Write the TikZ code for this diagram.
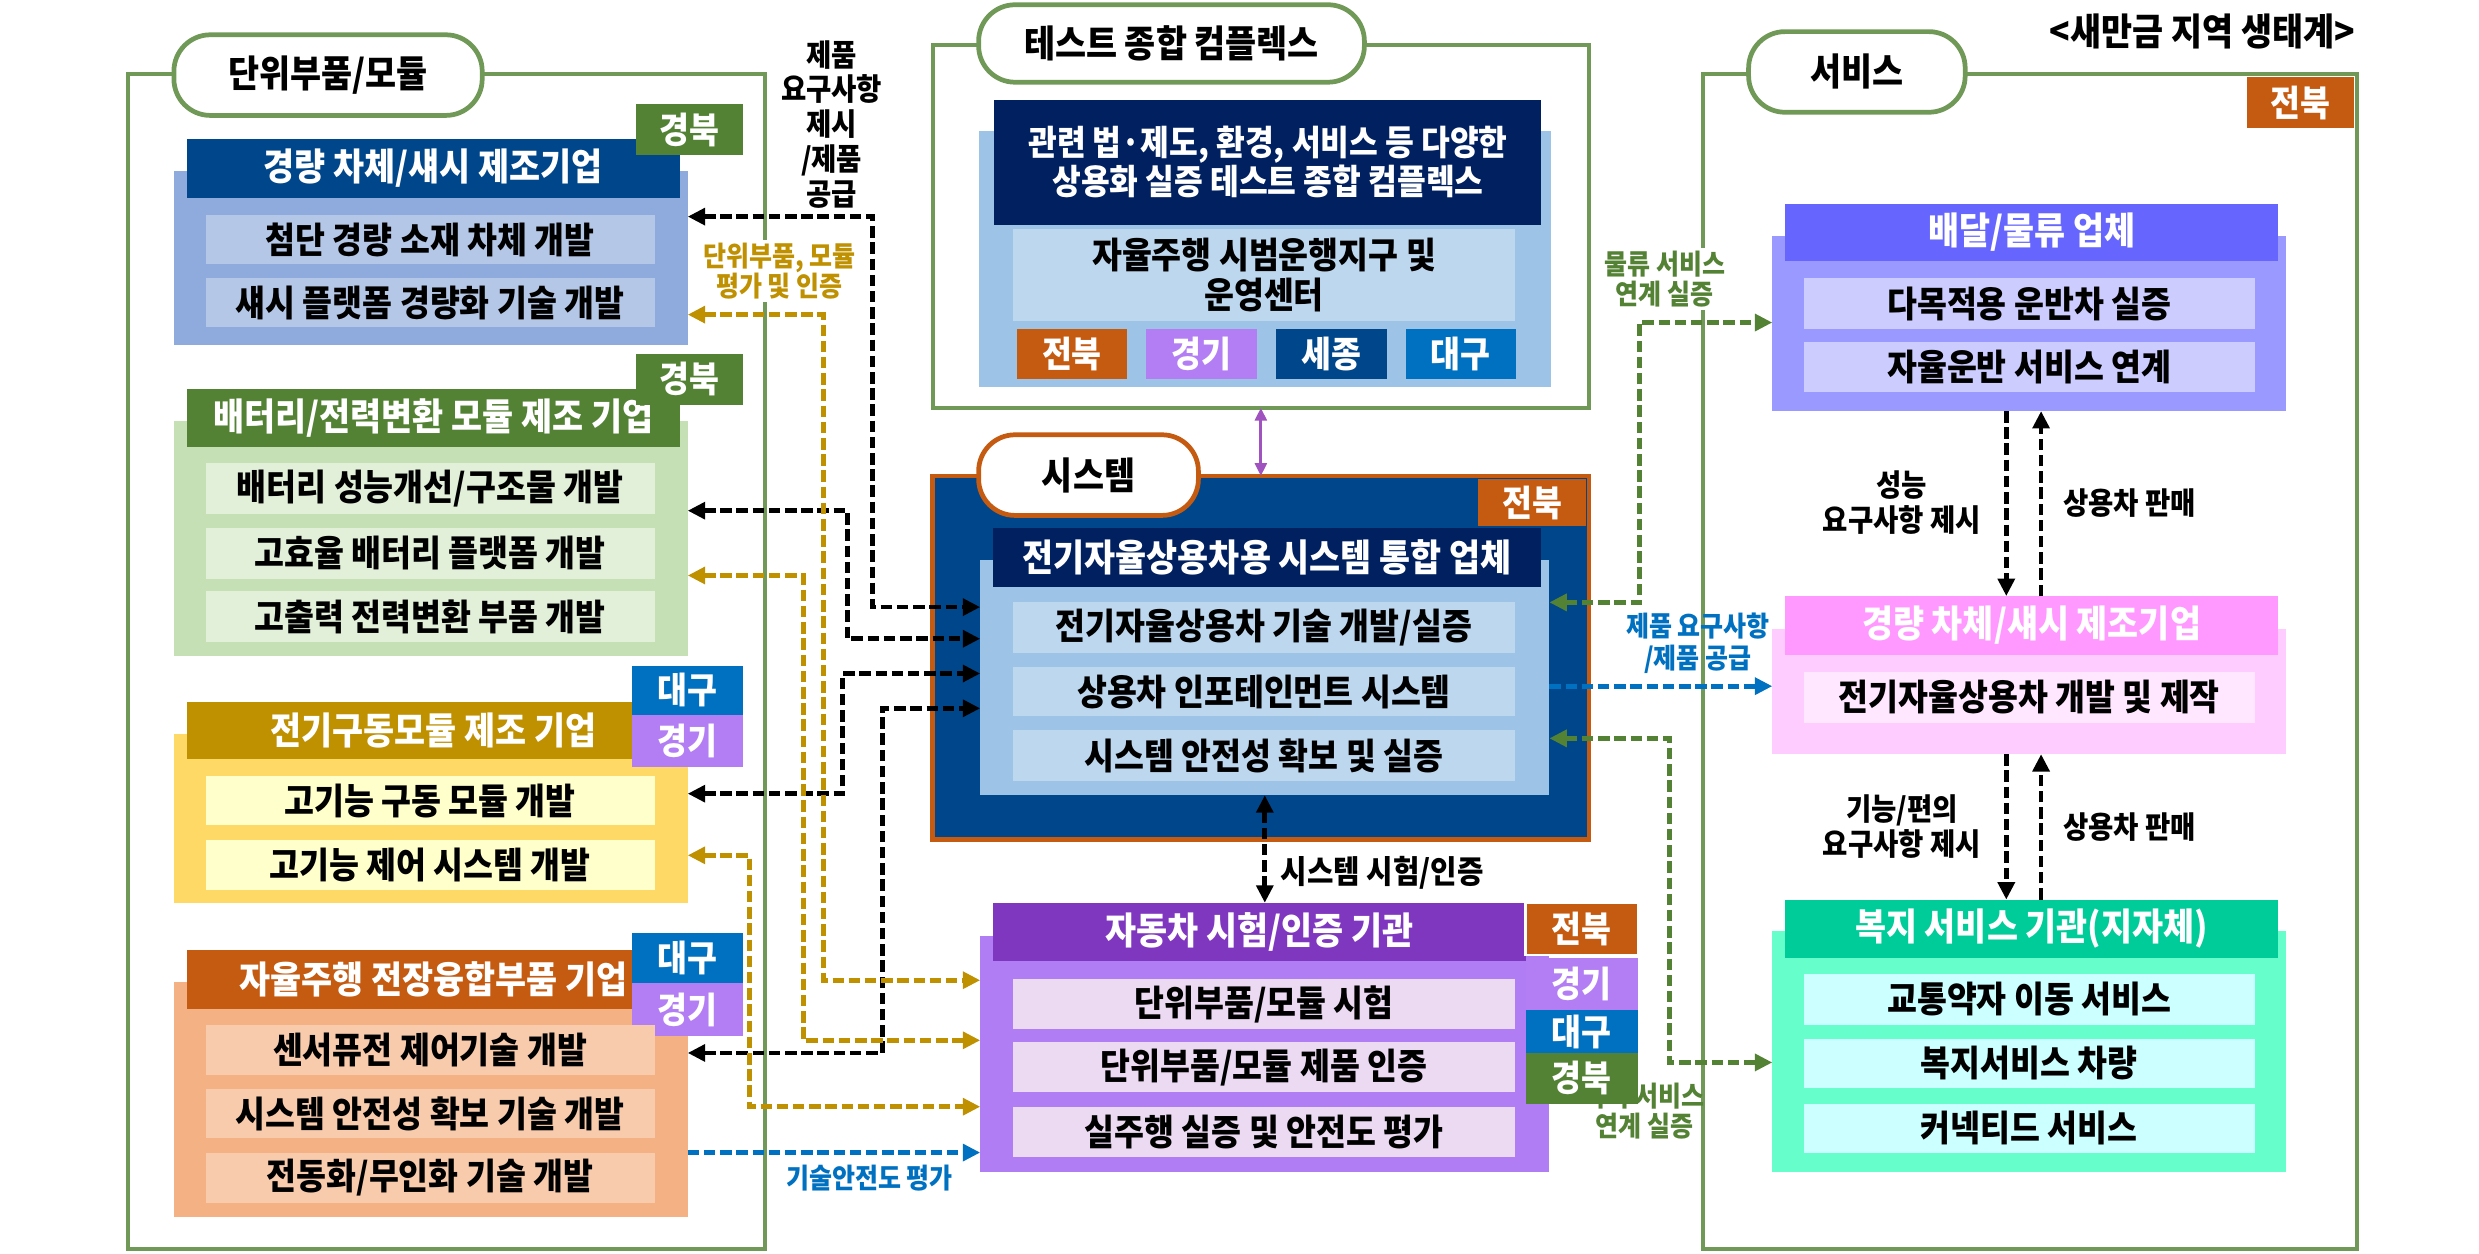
\documentclass[tikz,border=0pt]{standalone}
\usepackage{fontspec}
\setmainfont{Noto Sans CJK KR}[FakeStretch=0.9]
\usetikzlibrary{arrows.meta, positioning}

\definecolor{frgreen}{RGB}{112,153,87}
\definecolor{navyA}{RGB}{0,70,138}
\definecolor{navyB}{RGB}{0,32,96}
\definecolor{tgreen}{RGB}{84,130,53}
\definecolor{tblue}{RGB}{0,112,192}
\definecolor{tpurple}{RGB}{179,125,243}
\definecolor{torange}{RGB}{197,90,17}
\definecolor{gold}{RGB}{191,144,0}
\definecolor{bAbody}{RGB}{143,170,220}
\definecolor{bAitem}{RGB}{180,199,231}
\definecolor{bBbody}{RGB}{197,224,180}
\definecolor{bBitem}{RGB}{226,240,217}
\definecolor{bCbody}{RGB}{255,217,102}
\definecolor{bCitem}{RGB}{255,255,204}
\definecolor{bDbody}{RGB}{244,177,131}
\definecolor{bDitem}{RGB}{248,203,173}
\definecolor{skybody}{RGB}{157,195,230}
\definecolor{skyitem}{RGB}{189,215,238}
\definecolor{cthd}{RGB}{128,55,192}
\definecolor{ctbd}{RGB}{177,125,245}
\definecolor{ctit}{RGB}{235,218,242}
\definecolor{sAhd}{RGB}{102,102,255}
\definecolor{sAbd}{RGB}{153,153,255}
\definecolor{sAit}{RGB}{204,204,255}
\definecolor{sBhd}{RGB}{255,153,255}
\definecolor{sBbd}{RGB}{255,204,255}
\definecolor{sBit}{RGB}{255,232,255}
\definecolor{sChd}{RGB}{0,204,153}
\definecolor{sCbd}{RGB}{102,255,204}
\definecolor{sCit}{RGB}{204,255,255}
\definecolor{purparr}{RGB}{160,82,190}

\newcommand\fitem{\fontsize{13}{14.5}\selectfont\bfseries}
\newcommand\fhead{\fontsize{13.5}{15}\selectfont\bfseries}
\newcommand\flbl{\fontsize{10}{10.8}\selectfont\bfseries}
\newcommand\flblb{\fontsize{11}{12.5}\selectfont\bfseries}

% box from corner to corner: name, style, x1, y1, x2, y2, text
\newcommand\bx[7]{\node[#2, minimum width={(#5-#3)*0.2mm}, minimum height={(#6-#4)*0.2mm}] (#1) at ({(#3+#5)/2},{(#4+#6)/2}) {#7};}

\tikzset{
  base/.style={rectangle, inner sep=0pt, outer sep=0pt, align=center},
  body/.style={base, fill=#1},
  head/.style={base, fill=#1, text=white, font=\fhead},
  item/.style={base, fill=#1, font=\fitem},
  tag/.style={base, fill=#1, text=white, font=\fitem},
  frame/.style={base, draw=frgreen, line width=0.5mm},
  pill/.style={base, draw=#1, fill=white, line width=0.6mm, rounded corners=4.6mm, font=\fhead},
  lnk/.style={line width=0.6mm, dash pattern=on 1.45mm off 0.6mm, draw=#1},
  lbl/.style={align=center, inner sep=1pt, font=\flbl},
}

\begin{document}
\begin{tikzpicture}[x=0.2mm, y=-0.2mm, >={Triangle[length=2.2mm,width=2.1mm]}]
\useasboundingbox (0,0) rectangle (1568,793);

% frames and titles
\bx{lframe}{frame}{81}{47}{484}{790}{}
\bx{cxframe}{frame}{590}{28.5}{1005}{258}{}
\bx{svframe}{frame}{1077}{47}{1491}{790}{}
\bx{lpill}{pill=frgreen}{110}{22}{305}{73}{단위부품/모듈}
\bx{cxpill}{pill=frgreen}{619}{3}{863}{52}{테스트 종합 컴플렉스}
\bx{svpill}{pill=frgreen}{1106}{20}{1243}{71}{서비스}
\node[font=\fhead] (title) at (1393,20) {<새만금 지역 생태계>};

% labels
\node[lbl, font=\flblb] (lblsup) at (526,78.5) {제품\\요구사항\\제시\\/제품\\공급};
\node[lbl, text=gold, fill=white] (lbleval) at (493,171.5) {단위부품, 모듈\\평가 및 인증};
\node[lbl, text=tgreen, fill=white] (lbllog) at (1053,176.5) {물류 서비스\\연계 실증};
\node[lbl, text=tblue, font=\fontsize{10}{11.4}\selectfont\bfseries] (lblreq) at (1074,407) {제품 요구사항\\/제품 공급};
\node[lbl, text=tgreen] (lblwel) at (1040,703) {복지 서비스\\연계 실증};
\node[lbl, text=tblue] (lblsafe) at (550,745) {기술안전도 평가};
\node[lbl, font=\fontsize{11.5}{12.5}\selectfont\bfseries, anchor=west] (lbltest) at (808,552) {시스템 시험/인증};
\node[lbl, font=\flblb] (lblperf) at (1203,318) {성능\\요구사항 제시};
\node[lbl, font=\flblb] (lblsaleA) at (1347,318) {상용차 판매};
\node[lbl, font=\flblb] (lblfunc) at (1203,523) {기능/편의\\요구사항 제시};
\node[lbl, font=\flblb] (lblsaleB) at (1347,523) {상용차 판매};

% box 1
\bx{b1body}{body=bAbody}{110}{108}{435}{218}{}
\bx{b1head}{head=navyA}{118}{88}{430}{125}{경량 차체/섀시 제조기업}
\bx{b1tag}{tag=tgreen}{402}{66}{470}{98}{경북}
\bx{b1i1}{item=bAitem}{130}{136}{414}{167}{첨단 경량 소재 차체 개발}
\bx{b1i2}{item=bAitem}{130}{176}{414}{207}{섀시 플랫폼 경량화 기술 개발}

% box 2
\bx{b2body}{body=bBbody}{110}{266}{435}{415}{}
\bx{b2head}{head=tgreen}{118}{246}{430}{283}{배터리/전력변환 모듈 제조 기업}
\bx{b2tag}{tag=tgreen}{402}{224}{470}{256}{경북}
\bx{b2i1}{item=bBitem}{130}{293}{414}{325}{배터리 성능개선/구조물 개발}
\bx{b2i2}{item=bBitem}{130}{334}{414}{366}{고효율 배터리 플랫폼 개발}
\bx{b2i3}{item=bBitem}{130}{374}{414}{406}{고출력 전력변환 부품 개발}

% box 3
\bx{b3body}{body=bCbody}{110}{464}{435}{571}{}
\bx{b3head}{head=gold}{118}{444}{430}{480}{전기구동모듈 제조 기업}
\bx{b3tagA}{tag=tblue}{400}{421}{470}{452}{대구}
\bx{b3tagB}{tag=tpurple}{400}{452}{470}{485}{경기}
\bx{b3i1}{item=bCitem}{130}{491}{414}{522}{고기능 구동 모듈 개발}
\bx{b3i2}{item=bCitem}{130}{531}{414}{563}{고기능 제어 시스템 개발}

% box 4
\bx{b4body}{body=bDbody}{110}{621}{435}{770}{}
\bx{b4head}{head=torange}{118}{601}{430}{638}{자율주행 전장융합부품 기업}
\bx{b4tagA}{tag=tblue}{400}{590}{470}{622}{대구}
\bx{b4tagB}{tag=tpurple}{400}{622}{470}{655}{경기}
\bx{b4i1}{item=bDitem}{130}{648}{414}{680}{센서퓨전 제어기술 개발}
\bx{b4i2}{item=bDitem}{130}{689}{414}{720}{시스템 안전성 확보 기술 개발}
\bx{b4i3}{item=bDitem}{130}{729}{414}{761}{전동화/무인화 기술 개발}

% test complex
\bx{cxbody}{body=skybody}{619}{83}{981}{245}{}
\bx{cxhead}{head=navyB, font=\fontsize{12.5}{14}\selectfont\bfseries}{629}{63}{975}{142}{관련 법·제도, 환경, 서비스 등 다양한\\상용화 실증 테스트 종합 컴플렉스}
\bx{cxi1}{item=skyitem}{641}{145}{958}{203}{자율주행 시범운행지구 및\\운영센터}
\bx{cxtA}{tag=torange}{643}{208}{713}{240}{전북}
\bx{cxtB}{tag=tpurple}{725}{208}{795}{240}{경기}
\bx{cxtC}{tag=navyA}{807}{208}{877}{240}{세종}
\bx{cxtD}{tag=tblue}{889}{208}{959}{240}{대구}

% system integrator
\bx{sysbox}{body=navyA, draw=torange, line width=0.6mm}{590}{301}{1005}{531}{}
\bx{syspill}{pill=torange}{619}{275}{758}{326}{시스템}
\bx{systag}{tag=torange}{935}{303}{1003}{333}{전북}
\bx{sysbody}{body=skybody}{620}{354}{980}{503}{}
\bx{syshead}{head=navyB}{628}{334}{975}{371}{전기자율상용차용 시스템 통합 업체}
\bx{sysi1}{item=skyitem}{641}{381}{958}{413}{전기자율상용차 기술 개발/실증}
\bx{sysi2}{item=skyitem}{641}{422}{958}{453}{상용차 인포테인먼트 시스템}
\bx{sysi3}{item=skyitem}{641}{462}{958}{494}{시스템 안전성 확보 및 실증}

% test and certification
\bx{ctbody}{body=ctbd}{620}{592}{980}{741}{}
\bx{cthead}{head=cthd}{628}{571}{965}{608}{자동차 시험/인증 기관}
\bx{cttA}{tag=torange, draw=white, line width=0.3mm}{965}{571}{1036}{604}{전북}
\bx{cttB}{tag=tpurple}{965}{606}{1036}{639}{경기}
\bx{cttC}{tag=tblue}{965}{639}{1036}{666}{대구}
\bx{cttD}{tag=tgreen}{965}{666}{1036}{698}{경북}
\bx{cti1}{item=ctit}{641}{619}{958}{651}{단위부품/모듈 시험}
\bx{cti2}{item=ctit}{641}{659}{958}{691}{단위부품/모듈 제품 인증}
\bx{cti3}{item=ctit}{641}{700}{958}{732}{실주행 실증 및 안전도 평가}

% services
\bx{svtag}{tag=torange}{1421}{49}{1489}{81}{전북}
\bx{s1body}{body=sAbd}{1121}{149}{1446}{260}{}
\bx{s1head}{head=sAhd}{1129}{129}{1441}{165}{배달/물류 업체}
\bx{s1i1}{item=sAit}{1141}{176}{1426}{208}{다목적용 운반차 실증}
\bx{s1i2}{item=sAit}{1141}{216}{1426}{248}{자율운반 서비스 연계}
\bx{s2body}{body=sBbd}{1121}{398}{1446}{477}{}
\bx{s2head}{head=sBhd}{1129}{377}{1441}{414}{경량 차체/섀시 제조기업}
\bx{s2i1}{item=sBit}{1141}{425}{1426}{457}{전기자율상용차 개발 및 제작}
\bx{s3body}{body=sCbd}{1121}{589}{1446}{741}{}
\bx{s3head}{head=sChd}{1129}{569}{1441}{606}{복지 서비스 기관(지자체)}
\bx{s3i1}{item=sCit}{1141}{616}{1426}{648}{교통약자 이동 서비스}
\bx{s3i2}{item=sCit}{1141}{657}{1426}{688}{복지서비스 차량}
\bx{s3i3}{item=sCit}{1141}{698}{1426}{729}{커넥티드 서비스}

% elbows of the connectors
\coordinate (jA1) at (552,137); \coordinate (jA2) at (552,384);
\coordinate (jB1) at (536,323); \coordinate (jB2) at (536,404);
\coordinate (jC1) at (533,502); \coordinate (jC2) at (533,426);
\coordinate (jD1) at (558,666); \coordinate (jD2) at (558,448);
\coordinate (jE1) at (521,199); \coordinate (jE2) at (521,620);
\coordinate (jF1) at (508,364); \coordinate (jF2) at (508,658);
\coordinate (jG1) at (474,541); \coordinate (jG2) at (474,700);
\coordinate (jH) at (550,729);
\coordinate (jI1) at (1037,381); \coordinate (jI2) at (1037,204);
\coordinate (jJ1) at (1056,467); \coordinate (jJ2) at (1056,672);
\coordinate (jK) at (1050,434);
\coordinate (dnx) at (1269,0); \coordinate (upx) at (1291,0);

% left side links
\draw[lnk=black, <->] (b1body.east |- jA1) -- (jA1) -- (jA2) -- (sysbody.west |- jA2);
\draw[lnk=black, <->] (b2body.east |- jB1) -- (jB1) -- (jB2) -- (sysbody.west |- jB2);
\draw[lnk=black, <->] (b3body.east |- jC1) -- (jC1) -- (jC2) -- (sysbody.west |- jC2);
\draw[lnk=black, <->] (b4body.east |- jD1) -- (jD1) -- (jD2) -- (sysbody.west |- jD2);
\draw[lnk=gold, <->] (b1body.east |- jE1) -- (jE1) -- (jE2) -- (ctbody.west |- jE2);
\draw[lnk=gold, <->] (b2body.east |- jF1) -- (jF1) -- (jF2) -- (ctbody.west |- jF2);
\draw[lnk=gold, <->] (b3body.east |- jG1) -- (jG1) -- (jG2) -- (ctbody.west |- jG2);
\draw[lnk=tblue, ->] (b4body.east |- jH) -- (ctbody.west |- jH);

% right side links
\draw[lnk=tgreen, <->] (sysbody.east |- jI1) -- (jI1) -- (jI2) -- (s1body.west |- jI2);
\draw[lnk=tgreen, <->] (sysbody.east |- jJ1) -- (jJ1) -- (jJ2) -- (s3body.west |- jJ2);
\draw[lnk=tblue, ->] (sysbody.east |- jK) -- (s2body.west |- jK);

% vertical links
\draw[line width=0.35mm, draw=purparr, {Triangle[length=1.6mm,width=1.5mm]}-{Triangle[length=1.6mm,width=1.5mm]}] (sysbox.north |- cxframe.south) -- (sysbox.north);
\draw[lnk=black, <->] (sysbody.south) -- (sysbody.south |- cthead.north);
\draw[lnk=black, ->] (s1body.south -| dnx) -- (s2head.north -| dnx);
\draw[lnk=black, ->] (s2head.north -| upx) -- (s1body.south -| upx);
\draw[lnk=black, ->] (s2body.south -| dnx) -- (s3head.north -| dnx);
\draw[lnk=black, ->] (s3head.north -| upx) -- (s2body.south -| upx);
\end{tikzpicture}
\end{document}
